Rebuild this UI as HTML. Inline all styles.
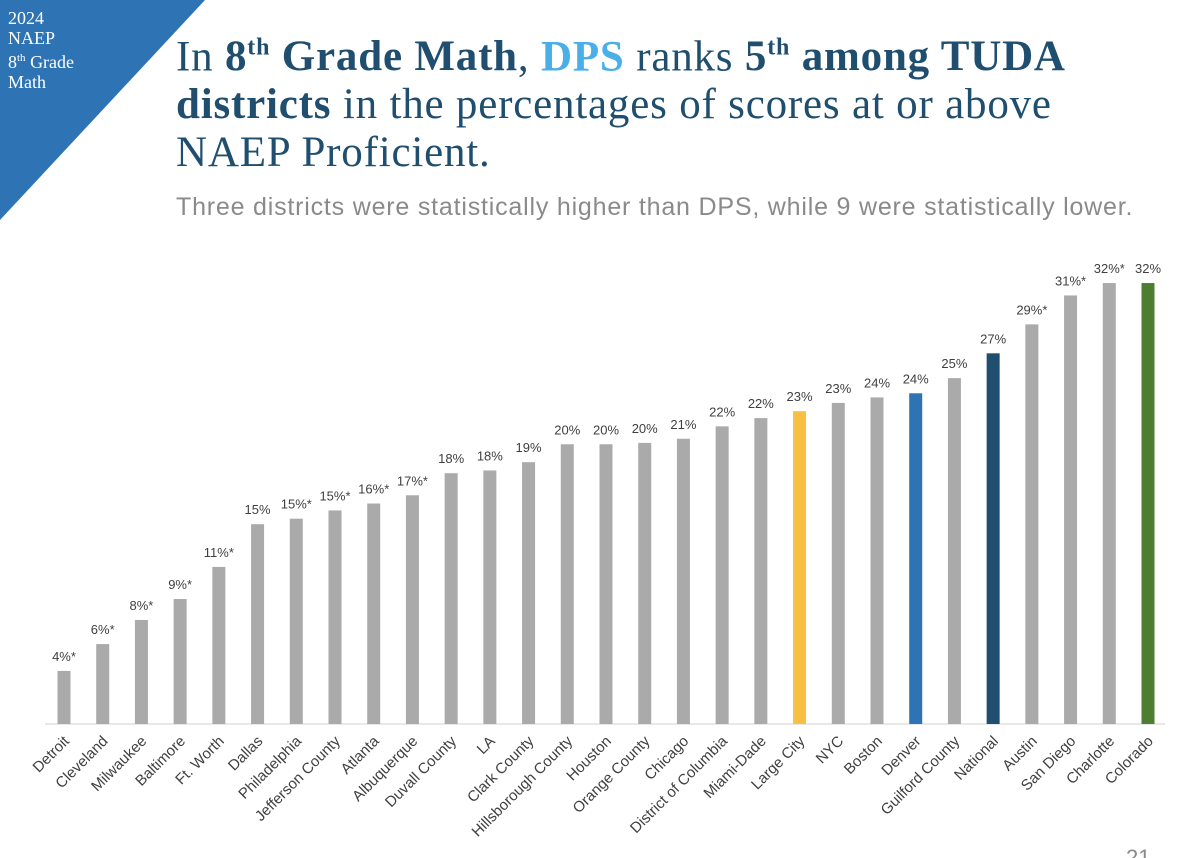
<!DOCTYPE html>
<html style="overflow:hidden;height:858px"><head><meta charset="utf-8"><style>
html,body{overflow:hidden;height:858px}
body{margin:0;width:1200px;background:#fff;font-family:"Liberation Sans",sans-serif;position:relative}
#tri{position:absolute;left:0;top:0}
#tag{position:absolute;left:8px;top:8px;color:#fff;font-family:"Liberation Serif",serif;font-size:18px;line-height:20px}
#title{position:absolute;left:176px;top:24px;width:1020px;font-family:"Liberation Serif",serif;font-size:43px;line-height:48px;color:#1f4e6e;letter-spacing:0.8px;white-space:nowrap}
#title b{color:#1f4e6e}
#sub{position:absolute;left:176px;top:193px;font-size:25px;letter-spacing:0.8px;color:#8a8a8a;white-space:nowrap}
#pgwrap{position:absolute;left:1120px;top:840px;width:60px;height:18px;overflow:hidden}
#pg{position:absolute;left:6px;top:6px;font-size:22px;line-height:24px;color:#8a8a8a}
#chart{position:absolute;left:0;top:0}
</style></head><body>
<svg id="tri" width="210" height="225"><polygon points="0,0 205,0 0,220" fill="#2e74b5"/></svg>
<div id="tag">2024<br>NAEP<br>8<sup style="font-size:11px">th</sup> Grade<br>Math</div>
<div id="title">In <b>8<sup style="font-size:24px">th</sup> Grade Math</b>, <b style="color:#4aaee8">DPS</b> ranks <b>5<sup style="font-size:24px">th</sup> among TUDA</b><br><b>districts</b> in the percentages of scores at or above<br>NAEP Proficient.</div>
<div id="sub">Three districts were statistically higher than DPS, while 9 were statistically lower.</div>
<div id="pgwrap"><div id="pg">21</div></div>
<svg id="chart" width="1200" height="858"></svg>
<script>
const categories=["Detroit","Cleveland","Milwaukee","Baltimore","Ft. Worth","Dallas","Philadelphia","Jefferson County","Atlanta","Albuquerque","Duvall County","LA","Clark County","Hillsborough County","Houston","Orange County","Chicago","District of Columbia","Miami-Dade","Large City","NYC","Boston","Denver","Guilford County","National","Austin","San Diego","Charlotte","Colorado"];
const values=[3.85,5.8,7.55,9.07,11.4,14.5,14.9,15.5,16.0,16.6,18.2,18.4,19.0,20.3,20.3,20.4,20.7,21.6,22.2,22.7,23.3,23.7,24.0,25.1,26.9,29.0,31.1,32,32];
const labels=["4%*","6%*","8%*","9%*","11%*","15%","15%*","15%*","16%*","17%*","18%","18%","19%","20%","20%","20%","21%","22%","22%","23%","23%","24%","24%","25%","27%","29%*","31%*","32%*","32%"];
const NS="http://www.w3.org/2000/svg",svg=document.getElementById('chart');
const x0=64,step=(1148-64)/28,base=724,k=13.78;
const xs=i=>x0+i*step, ys=v=>base-v*k;
function colorOf(c){return c==="Large City"?"#f6c143":c==="Denver"?"#2e74b5":c==="National"?"#1f4e6e":c==="Colorado"?"#4e7d32":"#aaaaaa";}
const ax=document.createElementNS(NS,'line');
ax.setAttribute('x1',45);ax.setAttribute('x2',1165);ax.setAttribute('y1',base);ax.setAttribute('y2',base);ax.setAttribute('stroke','#d0d0d0');


svg.appendChild(ax);
categories.forEach((c,i)=>{
 const x=xs(i),y=ys(values[i]);
 const r=document.createElementNS(NS,'rect');
 r.setAttribute('x',x-6.5);r.setAttribute('y',y);r.setAttribute('width',13);r.setAttribute('height',base-y);r.setAttribute('fill',colorOf(c));
 
 
 svg.appendChild(r);
 const t=document.createElementNS(NS,'text');
 t.setAttribute('x',x);t.setAttribute('y',y-10);t.setAttribute('text-anchor','middle');t.setAttribute('font-size','13');t.setAttribute('fill','#404040');
 t.textContent=labels[i];
 
 
 svg.appendChild(t);
 const l=document.createElementNS(NS,'text');
 l.setAttribute('transform','translate('+(x+6)+','+(base+18)+') rotate(-45)');
 l.setAttribute('text-anchor','end');l.setAttribute('font-size','15');l.setAttribute('fill','#404040');
 l.textContent=c;
 
 
 svg.appendChild(l);
});
</script>
</body></html>
